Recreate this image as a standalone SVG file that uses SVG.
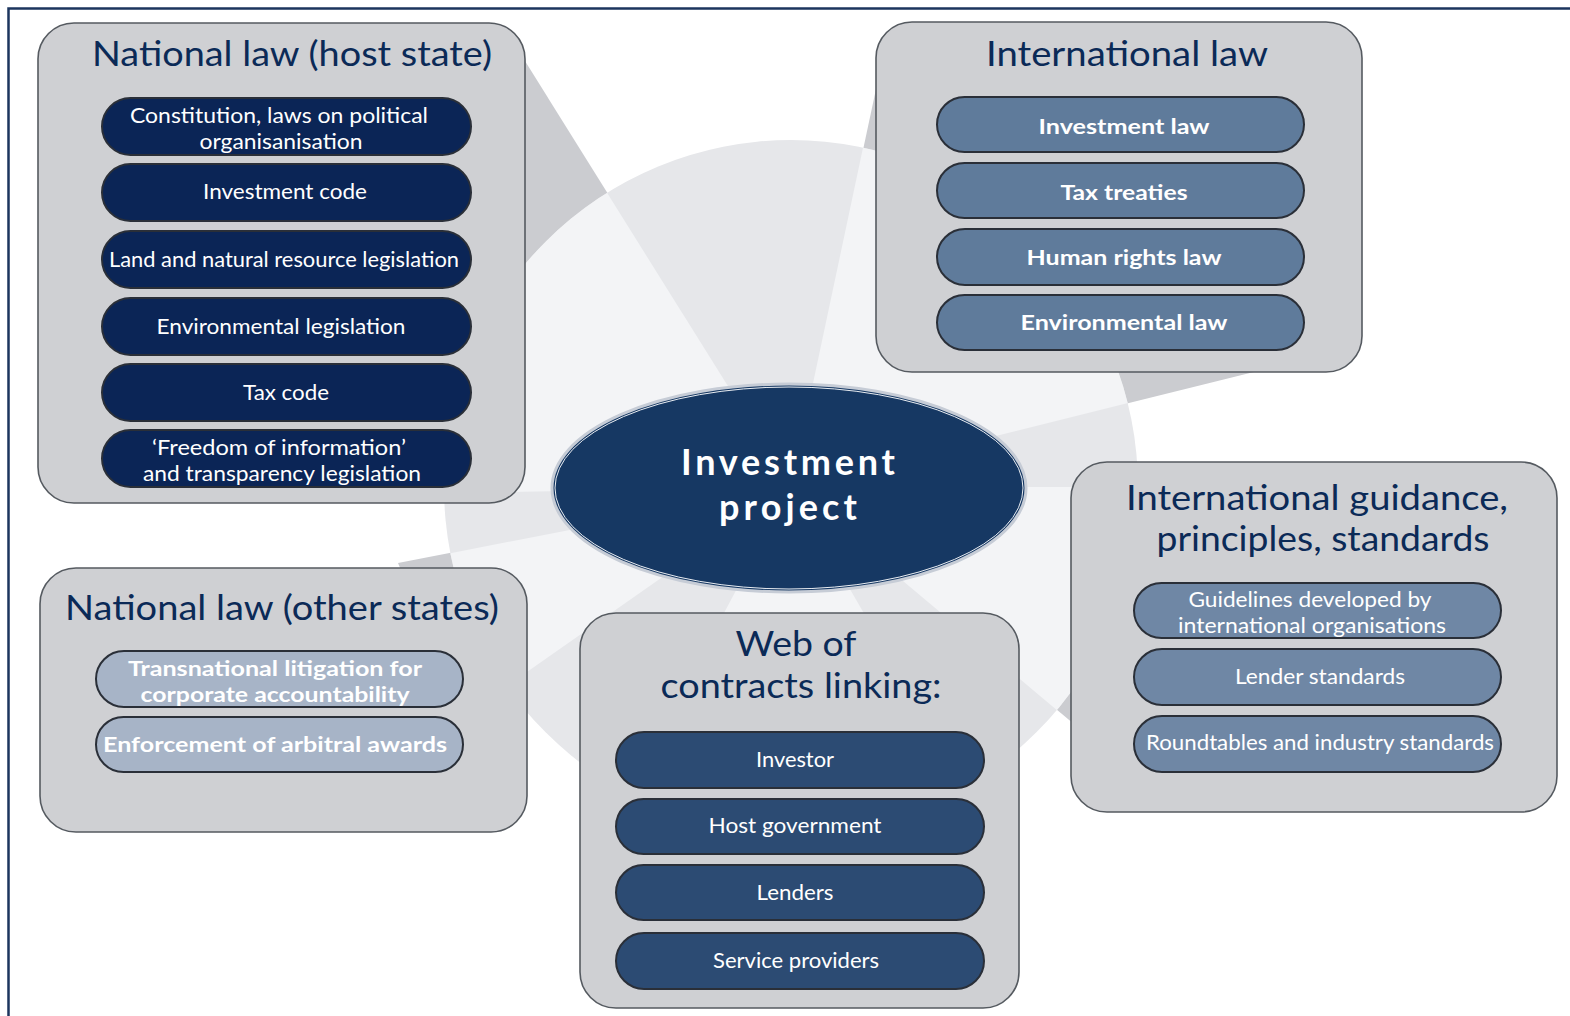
<svg xmlns="http://www.w3.org/2000/svg" width="1570" height="1016" viewBox="0 0 1570 1016">
<defs>
<style>
.box{fill:#cfd0d3;stroke:#555a60;stroke-width:1.6}
.title{font-family:Lato,"Open Sans","DejaVu Sans",sans-serif;font-size:34px;fill:#0b2a57;text-anchor:middle}
.pt{font-family:Lato,"Open Sans","DejaVu Sans",sans-serif;font-size:21px;fill:#ffffff;text-anchor:middle}
.pb{font-family:Lato,"Open Sans","DejaVu Sans",sans-serif;font-size:21px;font-weight:bold;fill:#ffffff;text-anchor:middle}
.ct{font-family:Lato,"Open Sans","DejaVu Sans",sans-serif;font-size:36px;font-weight:bold;fill:#ffffff;text-anchor:middle}
.p1{fill:#0b2556;stroke:#2a2f38;stroke-width:2}
.p2{fill:#5f7b9b;stroke:#2a2f38;stroke-width:2}
.p3{fill:#a7b4c7;stroke:#2a2f38;stroke-width:2}
.p4{fill:#2c4b73;stroke:#2a2f38;stroke-width:2}
.p5{fill:#6f87a5;stroke:#2a2f38;stroke-width:2}
.dark{fill:#cbccd0}
.light{fill:#f3f4f6}
</style>
<clipPath id="circ"><circle cx="791" cy="487" r="347"/></clipPath>
</defs>
<rect x="0" y="0" width="1570" height="1016" fill="#ffffff"/>
<g id="background">
<g class="dark">
<path d="M791,487 L1262,370 L1100,100 L885,47 Z"/>
<path d="M791,487 L515,45 L271,496 Z"/>
<path d="M791,487 L398,563 L463,716 Z"/>
<path d="M791,487 L1136,776 L1214,487 Z"/>
</g>
<circle cx="791" cy="487" r="347" fill="#e6e7ea"/>
<g class="light" clip-path="url(#circ)">
<path d="M791,487 L2052,173 L1061,-785 Z"/>
<path d="M791,487 L102,-615 L-509,510 Z"/>
<path d="M791,487 L-485,735 L-274,1233 Z"/>
<path d="M791,487 L181,1635 L1441,1613 Z"/>
<path d="M791,487 L1787,1323 L2091,487 Z"/>
</g>
</g>
<g id="frame" fill="none" stroke="#1c355e" stroke-width="2.5">
<path d="M8.5,1016 V8.5 H1570"/>
</g>
<g id="connectors"></g>
<g id="node-center">
<ellipse cx="789" cy="488" rx="237" ry="104" fill="#163863" stroke="#c6ccd6" stroke-width="3"/>
<ellipse cx="789" cy="488" rx="234" ry="101" fill="none" stroke="#e9edf2" stroke-width="1"/>
<text class="ct" x="788" y="475" textLength="214" lengthAdjust="spacing">Investment</text>
<text class="ct" x="788" y="520" textLength="138" lengthAdjust="spacing">project</text>
</g>
<g id="node-national-host">
<rect class="box" x="38" y="23" width="487" height="480" rx="36"/>
<text class="title" x="292" y="66" textLength="400" lengthAdjust="spacingAndGlyphs">National law (host state)</text>
<rect class="p1" x="102" y="98" width="369" height="57" rx="28.5"/>
<text class="pt" x="279" y="123" textLength="298" lengthAdjust="spacingAndGlyphs">Constitution, laws on political</text>
<text class="pt" x="281" y="148.5" textLength="163" lengthAdjust="spacingAndGlyphs">organisanisation</text>
<rect class="p1" x="102" y="164" width="369" height="57" rx="28.5"/>
<text class="pt" x="285" y="199" textLength="164" lengthAdjust="spacingAndGlyphs">Investment code</text>
<rect class="p1" x="102" y="231" width="369" height="57" rx="28.5"/>
<text class="pt" x="284" y="267" textLength="350" lengthAdjust="spacingAndGlyphs">Land and natural resource legislation</text>
<rect class="p1" x="102" y="298" width="369" height="57" rx="28.5"/>
<text class="pt" x="281" y="334" textLength="249" lengthAdjust="spacingAndGlyphs">Environmental legislation</text>
<rect class="p1" x="102" y="364" width="369" height="57" rx="28.5"/>
<text class="pt" x="286" y="400" textLength="86" lengthAdjust="spacingAndGlyphs">Tax code</text>
<rect class="p1" x="102" y="430" width="369" height="57" rx="28.5"/>
<text class="pt" x="279" y="455" textLength="254" lengthAdjust="spacingAndGlyphs">‘Freedom of information’</text>
<text class="pt" x="282" y="480.5" textLength="278" lengthAdjust="spacingAndGlyphs">and transparency legislation</text>
</g>
<g id="node-international-law">
<rect class="box" x="876" y="22" width="486" height="350" rx="36"/>
<text class="title" x="1127" y="66" textLength="282" lengthAdjust="spacingAndGlyphs">International law</text>
<rect class="p2" x="937" y="97" width="367" height="55" rx="27.5"/>
<text class="pb" x="1124" y="134" textLength="171" lengthAdjust="spacingAndGlyphs">Investment law</text>
<rect class="p2" x="937" y="163" width="367" height="55" rx="27.5"/>
<text class="pb" x="1124" y="200" textLength="127" lengthAdjust="spacingAndGlyphs">Tax treaties</text>
<rect class="p2" x="937" y="229" width="367" height="56" rx="28"/>
<text class="pb" x="1124" y="265" textLength="195" lengthAdjust="spacingAndGlyphs">Human rights law</text>
<rect class="p2" x="937" y="295" width="367" height="55" rx="27.5"/>
<text class="pb" x="1124" y="330" textLength="207" lengthAdjust="spacingAndGlyphs">Environmental law</text>
</g>
<g id="node-national-other">
<rect class="box" x="40" y="568" width="487" height="264" rx="36"/>
<text class="title" x="282" y="620" textLength="434" lengthAdjust="spacingAndGlyphs">National law (other states)</text>
<rect class="p3" x="96" y="651" width="367" height="56" rx="28"/>
<text class="pb" x="275" y="676" textLength="294" lengthAdjust="spacingAndGlyphs">Transnational litigation for</text>
<text class="pb" x="275" y="701.5" textLength="269" lengthAdjust="spacingAndGlyphs">corporate accountability</text>
<rect class="p3" x="96" y="717" width="367" height="55" rx="27.5"/>
<text class="pb" x="275" y="752" textLength="344" lengthAdjust="spacingAndGlyphs">Enforcement of arbitral awards</text>
</g>
<g id="node-web">
<rect class="box" x="580" y="613" width="439" height="395" rx="36"/>
<text class="title" x="796" y="656" textLength="121" lengthAdjust="spacingAndGlyphs">Web of</text>
<text class="title" x="801" y="698" textLength="281" lengthAdjust="spacingAndGlyphs">contracts linking:</text>
<rect class="p4" x="616" y="732" width="368" height="56" rx="28"/>
<text class="pt" x="795" y="767" textLength="78" lengthAdjust="spacingAndGlyphs">Investor</text>
<rect class="p4" x="616" y="799" width="368" height="55" rx="27.5"/>
<text class="pt" x="795" y="833" textLength="173" lengthAdjust="spacingAndGlyphs">Host government</text>
<rect class="p4" x="616" y="865" width="368" height="55" rx="27.5"/>
<text class="pt" x="795" y="900" textLength="77" lengthAdjust="spacingAndGlyphs">Lenders</text>
<rect class="p4" x="616" y="933" width="368" height="56" rx="28"/>
<text class="pt" x="796" y="968" textLength="166" lengthAdjust="spacingAndGlyphs">Service providers</text>
</g>
<g id="node-guidance">
<rect class="box" x="1071" y="462" width="486" height="350" rx="36"/>
<text class="title" x="1317" y="510" textLength="382" lengthAdjust="spacingAndGlyphs">International guidance,</text>
<text class="title" x="1323" y="551" textLength="333" lengthAdjust="spacingAndGlyphs">principles, standards</text>
<rect class="p5" x="1134" y="583" width="367" height="55" rx="27.5"/>
<text class="pt" x="1310" y="607" textLength="243" lengthAdjust="spacingAndGlyphs">Guidelines developed by</text>
<text class="pt" x="1312" y="632.5" textLength="268" lengthAdjust="spacingAndGlyphs">international organisations</text>
<rect class="p5" x="1134" y="649" width="367" height="56" rx="28"/>
<text class="pt" x="1320" y="684" textLength="170" lengthAdjust="spacingAndGlyphs">Lender standards</text>
<rect class="p5" x="1134" y="716" width="367" height="56" rx="28"/>
<text class="pt" x="1320" y="750" textLength="348" lengthAdjust="spacingAndGlyphs">Roundtables and industry standards</text>
</g>
</svg>
